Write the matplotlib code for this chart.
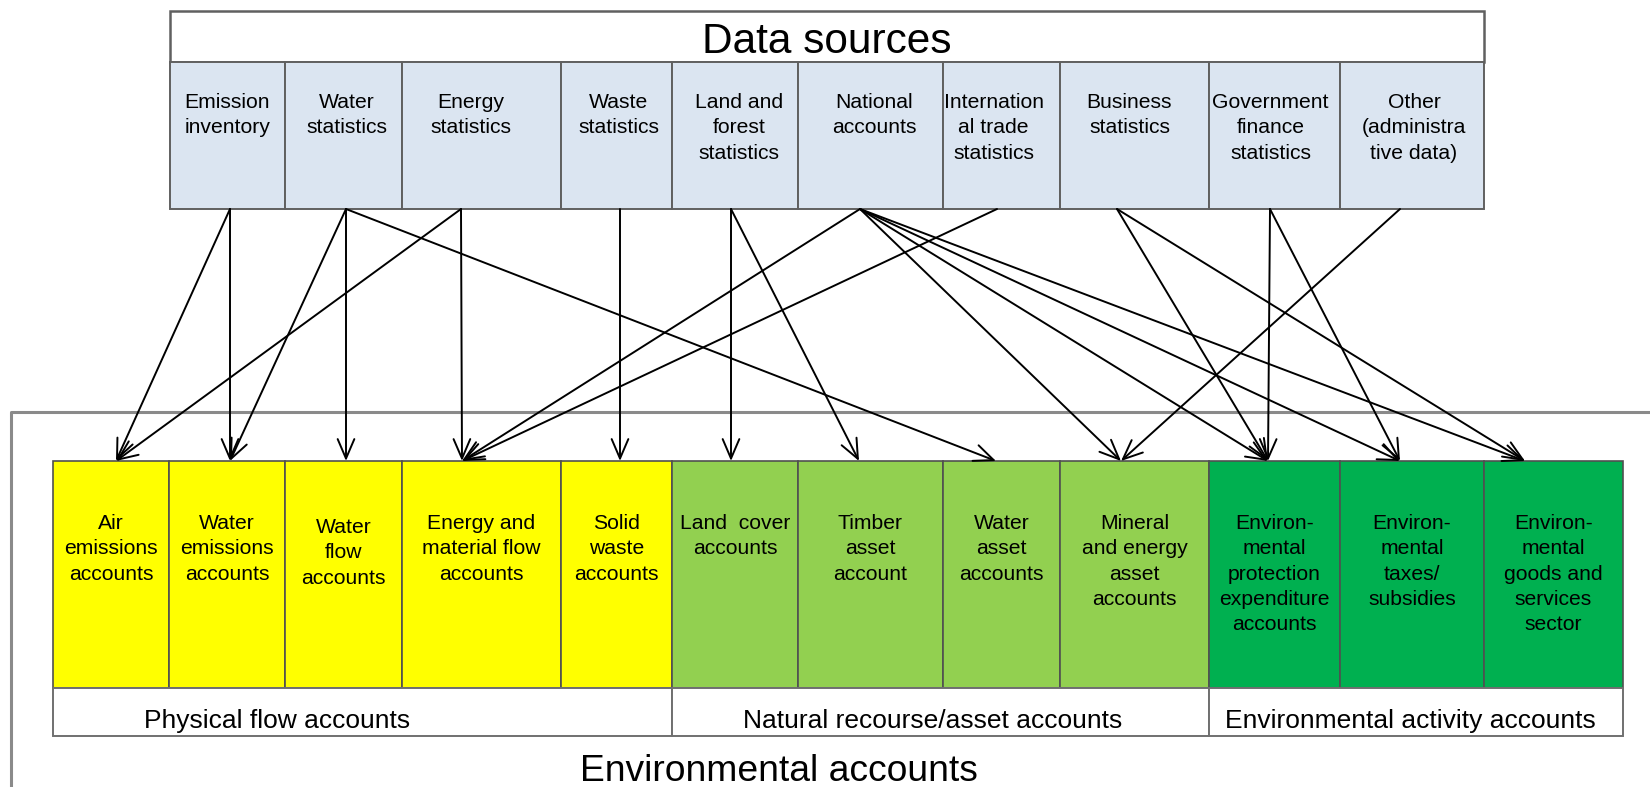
import matplotlib
matplotlib.use("Agg")
import matplotlib.pyplot as plt
from matplotlib.patches import Rectangle

plt.rcParams['font.family'] = ['Liberation Sans', 'DejaVu Sans']

# ---- data ----
title_top = "Data sources"
title_bottom = "Environmental accounts"

sources = ["Emission\ninventory", "Water\nstatistics", "Energy\nstatistics",
           "Waste\nstatistics", "Land and\nforest\nstatistics", "National\naccounts",
           "Internation\nal trade\nstatistics", "Business\nstatistics",
           "Government\nfinance\nstatistics", "Other\n(administra\ntive data)"]

accounts = ["Air\nemissions\naccounts", "Water\nemissions\naccounts", "Water\nflow\naccounts",
            "Energy and\nmaterial flow\naccounts", "Solid\nwaste\naccounts",
            "Land  cover\naccounts", "Timber\nasset\naccount", "Water\nasset\naccounts",
            "Mineral\nand energy\nasset\naccounts",
            "Environ-\nmental\nprotection\nexpenditure\naccounts",
            "Environ-\nmental\ntaxes/\nsubsidies",
            "Environ-\nmental\ngoods and\nservices\nsector"]

groups = ["Physical flow accounts", "Natural recourse/asset accounts",
          "Environmental activity accounts"]
group_members = [[0, 1, 2, 3, 4], [5, 6, 7, 8], [9, 10, 11]]

# (source index, account index)
links = [(0, 0), (0, 1), (1, 1), (1, 2), (1, 7), (2, 0), (2, 3), (3, 4),
         (4, 5), (4, 6), (5, 3), (5, 8), (5, 9), (5, 10), (5, 11), (6, 3),
         (7, 9), (7, 11), (8, 9), (8, 10), (9, 8)]

# ---- layout (pixels) ----
src_edges = [170, 285, 402, 561, 672, 798, 943, 1060, 1209, 1340, 1484]
acc_edges = [53, 169, 285, 402, 561, 672, 798, 943, 1060, 1209, 1340, 1484, 1623]
src_text_dx = [0, 3, -11, 2, 4, 4, -8, -5, -4, 2]
acc_text_dy = [0, 0, 4, 0, 0, 0, 0, 0, 0, 0, 0, 0]
src_anchor = [230, 346, 461, 620, 731, 860, 997, 1117, 1270, 1400]
acc_anchor = [116, 230, 346, 462, 620, 731, 859, 996, 1121, 1268, 1400, 1525]
group_label_x = [277, 933, 1410]
group_colors = ['#FFFF00', '#92D050', '#00B050']

top_y0, top_div, top_y1 = 11, 62, 209
acc_y0, acc_y1, lab_y1 = 461, 688, 736
frame_x, frame_y = 10.5, 412

fig = plt.figure(figsize=(16.5, 7.87), dpi=100)
ax = fig.add_axes([0, 0, 1, 1])
ax.set_xlim(0, 1650)
ax.set_ylim(787, 0)
ax.axis('off')

edge = '#606060'

# outer frame (environmental accounts)
ax.plot([frame_x, frame_x, 1650], [787, frame_y, frame_y], color='#8a8a8a', lw=2.2,
        solid_capstyle='butt')

# data sources box
ax.add_patch(Rectangle((src_edges[0], top_y0), src_edges[-1] - src_edges[0],
                       top_div - top_y0, facecolor='white', edgecolor=edge, lw=1.8))
ax.text((src_edges[0] + src_edges[-1]) / 2, 42, title_top,
        ha='center', va='center', fontsize=30.5)
for i, name in enumerate(sources):
    x0, x1 = src_edges[i], src_edges[i + 1]
    ax.add_patch(Rectangle((x0, top_div), x1 - x0, top_y1 - top_div,
                           facecolor='#DBE5F1', edgecolor=edge, lw=1.4))
    ax.text((x0 + x1) / 2 + src_text_dx[i], 93, name, ha='center', va='top',
            fontsize=15.2, linespacing=1.42)

# account boxes
for g, members in enumerate(group_members):
    for i in members:
        x0, x1 = acc_edges[i], acc_edges[i + 1]
        ax.add_patch(Rectangle((x0, acc_y0), x1 - x0, acc_y1 - acc_y0,
                               facecolor=group_colors[g], edgecolor='#505050', lw=1.2))
        ax.text((x0 + x1) / 2, 514 + acc_text_dy[i], accounts[i], ha='center', va='top',
                fontsize=15.2, linespacing=1.42)
    gx0 = acc_edges[members[0]]
    gx1 = acc_edges[members[-1] + 1]
    ax.add_patch(Rectangle((gx0, acc_y1), gx1 - gx0, lab_y1 - acc_y1,
                           facecolor='white', edgecolor='#707070', lw=1.4))
    ax.text(group_label_x[g], 728, groups[g], ha='center', va='baseline', fontsize=19)

ax.text(779, 781, title_bottom, ha='center', va='baseline', fontsize=26.8)

# arrows
for s, a in links:
    ax.annotate('', xy=(acc_anchor[a], acc_y0), xytext=(src_anchor[s], top_y1),
                arrowprops=dict(arrowstyle='->,head_length=0.7,head_width=0.3',
                                mutation_scale=20, color='black', lw=1.4,
                                shrinkA=0, shrinkB=0))

fig.savefig('out.png', dpi=100)
